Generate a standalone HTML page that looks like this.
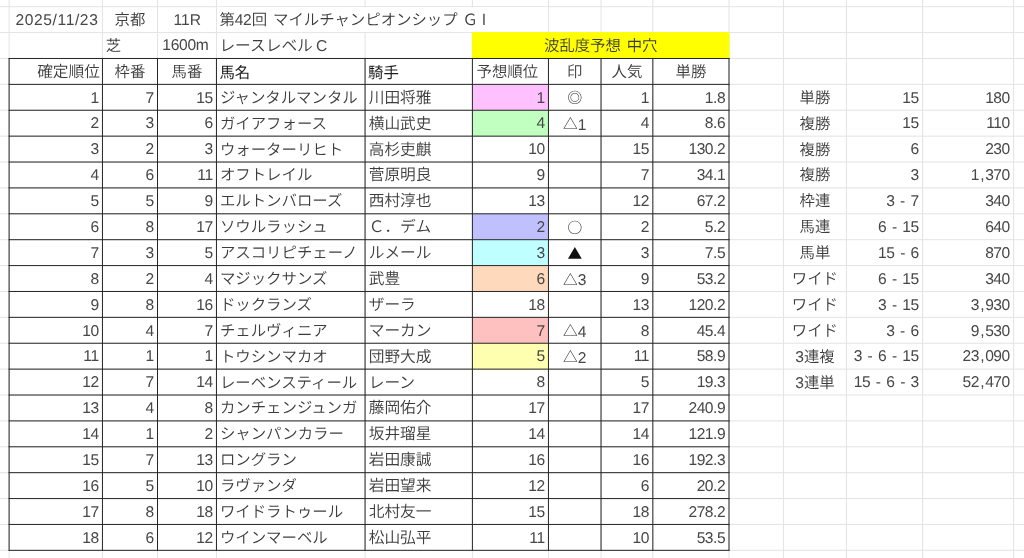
<!DOCTYPE html>
<html lang="ja"><head><meta charset="utf-8"><title>第42回 マイルチャンピオンシップ ＧⅠ</title>
<style>
html,body{margin:0;padding:0;background:#fff}
body{width:1024px;height:558px;position:relative;overflow:hidden;text-rendering:geometricPrecision;
font-family:"Liberation Sans","Noto Sans CJK JP",sans-serif;font-size:15.6px;letter-spacing:-0.45px;word-spacing:1.8px;color:#474747;font-weight:400}
svg{position:absolute;left:0;top:0}
.c{position:absolute;height:25.887px;line-height:25.887px;white-space:nowrap;box-sizing:border-box;overflow:visible}
.r{text-align:right}
.l{text-align:left}
.m{text-align:center}
.j{font-weight:350;font-size:15.4px;letter-spacing:0;word-spacing:1.6px;color:#3c3c3c}
.k{font-weight:400;color:#1c1c1c}
.n{font-size:15.7px}
.x{font-family:"Liberation Sans",sans-serif;font-size:15.6px;letter-spacing:-0.45px;margin-right:0.5px;font-weight:400;color:#474747}
.q{padding:0 1.1px}
.e{letter-spacing:0}
.w0{word-spacing:-1.2px}
.gi{margin-left:-1px;letter-spacing:-1.6px}
.e2{letter-spacing:-0.3px}
.s{font-family:"Noto Sans CJK JP",sans-serif;font-size:14.7px;position:relative;top:-0.3px;font-weight:400;color:#2a2a2a}
.t{color:#111}
.d{letter-spacing:0.6px}

</style></head><body>
<svg width="1024" height="558" viewBox="0 0 1024 558">
<rect x="8.60" y="0.00" width="1.00" height="558.00" fill="#e3e3e3"/>
<rect x="101.95" y="0.00" width="1.00" height="558.00" fill="#e3e3e3"/>
<rect x="157.00" y="0.00" width="1.00" height="558.00" fill="#e3e3e3"/>
<rect x="215.95" y="0.00" width="1.00" height="558.00" fill="#e3e3e3"/>
<rect x="364.56" y="0.00" width="1.00" height="558.00" fill="#e3e3e3"/>
<rect x="471.90" y="0.00" width="1.00" height="558.00" fill="#e3e3e3"/>
<rect x="547.95" y="0.00" width="1.00" height="558.00" fill="#e3e3e3"/>
<rect x="600.53" y="0.00" width="1.00" height="558.00" fill="#e3e3e3"/>
<rect x="652.34" y="0.00" width="1.00" height="558.00" fill="#e3e3e3"/>
<rect x="728.50" y="0.00" width="1.00" height="558.00" fill="#e3e3e3"/>
<rect x="782.96" y="0.00" width="1.00" height="558.00" fill="#e3e3e3"/>
<rect x="845.90" y="0.00" width="1.00" height="558.00" fill="#e3e3e3"/>
<rect x="922.10" y="0.00" width="1.00" height="558.00" fill="#e3e3e3"/>
<rect x="1013.10" y="0.00" width="1.00" height="558.00" fill="#e3e3e3"/>
<rect x="0.00" y="6.21" width="1024.00" height="1.00" fill="#e3e3e3"/>
<rect x="0.00" y="32.09" width="1024.00" height="1.00" fill="#e3e3e3"/>
<rect x="0.00" y="57.98" width="1024.00" height="1.00" fill="#e3e3e3"/>
<rect x="0.00" y="83.87" width="1024.00" height="1.00" fill="#e3e3e3"/>
<rect x="0.00" y="109.75" width="1024.00" height="1.00" fill="#e3e3e3"/>
<rect x="0.00" y="135.64" width="1024.00" height="1.00" fill="#e3e3e3"/>
<rect x="0.00" y="161.53" width="1024.00" height="1.00" fill="#e3e3e3"/>
<rect x="0.00" y="187.41" width="1024.00" height="1.00" fill="#e3e3e3"/>
<rect x="0.00" y="213.30" width="1024.00" height="1.00" fill="#e3e3e3"/>
<rect x="0.00" y="239.19" width="1024.00" height="1.00" fill="#e3e3e3"/>
<rect x="0.00" y="265.08" width="1024.00" height="1.00" fill="#e3e3e3"/>
<rect x="0.00" y="290.96" width="1024.00" height="1.00" fill="#e3e3e3"/>
<rect x="0.00" y="316.85" width="1024.00" height="1.00" fill="#e3e3e3"/>
<rect x="0.00" y="342.74" width="1024.00" height="1.00" fill="#e3e3e3"/>
<rect x="0.00" y="368.62" width="1024.00" height="1.00" fill="#e3e3e3"/>
<rect x="0.00" y="394.51" width="1024.00" height="1.00" fill="#e3e3e3"/>
<rect x="0.00" y="420.40" width="1024.00" height="1.00" fill="#e3e3e3"/>
<rect x="0.00" y="446.29" width="1024.00" height="1.00" fill="#e3e3e3"/>
<rect x="0.00" y="472.17" width="1024.00" height="1.00" fill="#e3e3e3"/>
<rect x="0.00" y="498.06" width="1024.00" height="1.00" fill="#e3e3e3"/>
<rect x="0.00" y="523.95" width="1024.00" height="1.00" fill="#e3e3e3"/>
<rect x="0.00" y="549.83" width="1024.00" height="1.00" fill="#e3e3e3"/>
<rect x="216.95" y="7.21" width="331.00" height="24.89" fill="#fff"/>
<rect x="471.90" y="32.09" width="257.60" height="26.39" fill="#ffff00"/>
<rect x="472.40" y="84.37" width="76.05" height="25.89" fill="#ffc0ff"/>
<rect x="472.40" y="110.25" width="76.05" height="25.89" fill="#c0ffc0"/>
<rect x="472.40" y="213.80" width="76.05" height="25.89" fill="#c0c0ff"/>
<rect x="472.40" y="239.69" width="76.05" height="25.89" fill="#c0ffff"/>
<rect x="472.40" y="265.58" width="76.05" height="25.89" fill="#ffd9bc"/>
<rect x="472.40" y="317.35" width="76.05" height="25.89" fill="#ffc0c0"/>
<rect x="472.40" y="343.24" width="76.05" height="25.89" fill="#ffffb0"/>
<rect x="8.60" y="57.98" width="1.00" height="492.85" fill="#262626"/>
<rect x="101.95" y="57.98" width="1.00" height="492.85" fill="#262626"/>
<rect x="157.00" y="57.98" width="1.00" height="492.85" fill="#262626"/>
<rect x="215.95" y="57.98" width="1.00" height="492.85" fill="#262626"/>
<rect x="364.56" y="57.98" width="1.00" height="492.85" fill="#262626"/>
<rect x="471.90" y="57.98" width="1.00" height="492.85" fill="#262626"/>
<rect x="547.95" y="57.98" width="1.00" height="492.85" fill="#262626"/>
<rect x="600.53" y="57.98" width="1.00" height="492.85" fill="#262626"/>
<rect x="652.34" y="57.98" width="1.00" height="492.85" fill="#262626"/>
<rect x="728.50" y="57.98" width="1.00" height="492.85" fill="#262626"/>
<rect x="8.60" y="57.98" width="720.90" height="1.00" fill="#262626"/>
<rect x="8.60" y="83.87" width="720.90" height="1.00" fill="#262626"/>
<rect x="8.60" y="109.75" width="720.90" height="1.00" fill="#262626"/>
<rect x="8.60" y="135.64" width="720.90" height="1.00" fill="#262626"/>
<rect x="8.60" y="161.53" width="720.90" height="1.00" fill="#262626"/>
<rect x="8.60" y="187.41" width="720.90" height="1.00" fill="#262626"/>
<rect x="8.60" y="213.30" width="720.90" height="1.00" fill="#262626"/>
<rect x="8.60" y="239.19" width="720.90" height="1.00" fill="#262626"/>
<rect x="8.60" y="265.08" width="720.90" height="1.00" fill="#262626"/>
<rect x="8.60" y="290.96" width="720.90" height="1.00" fill="#262626"/>
<rect x="8.60" y="316.85" width="720.90" height="1.00" fill="#262626"/>
<rect x="8.60" y="342.74" width="720.90" height="1.00" fill="#262626"/>
<rect x="8.60" y="368.62" width="720.90" height="1.00" fill="#262626"/>
<rect x="8.60" y="394.51" width="720.90" height="1.00" fill="#262626"/>
<rect x="8.60" y="420.40" width="720.90" height="1.00" fill="#262626"/>
<rect x="8.60" y="446.29" width="720.90" height="1.00" fill="#262626"/>
<rect x="8.60" y="472.17" width="720.90" height="1.00" fill="#262626"/>
<rect x="8.60" y="498.06" width="720.90" height="1.00" fill="#262626"/>
<rect x="8.60" y="523.95" width="720.90" height="1.00" fill="#262626"/>
<rect x="8.60" y="549.83" width="720.90" height="1.00" fill="#262626"/>
</svg>
<div class="c m d" style="left:10.80px;top:7.81px;width:92.35px">2025/11/23</div>
<div class="c m j" style="left:102.95px;top:8.11px;width:54.05px">京都</div>
<div class="c m e" style="left:158.30px;top:7.81px;width:57.95px">11R</div>
<div class="c l j" style="left:216.95px;top:8.11px;width:147.61px;padding-left:2.5px">第<span class="x">42</span>回 マイルチャンピオンシップ <span class="gi">ＧⅠ</span></div>
<div class="c l j" style="left:102.95px;top:33.99px;width:54.05px;padding-left:2.7px">芝</div>
<div class="c m e2" style="left:156.40px;top:33.39px;width:57.95px">1600m</div>
<div class="c l j n w0" style="left:216.95px;top:33.99px;width:147.61px;padding-left:2.5px">レースレベル <span class="x">C</span></div>
<div class="c m j" style="left:472.90px;top:33.99px;width:255.60px">波乱度予想 中穴</div>
<div class="c r j n" style="left:9.60px;top:59.88px;width:92.35px;padding-right:2px">確定順位</div>
<div class="c m j" style="left:102.95px;top:59.88px;width:54.05px">枠番</div>
<div class="c m j" style="left:158.00px;top:59.88px;width:57.95px">馬番</div>
<div class="c l j k" style="left:216.95px;top:61.28px;width:147.61px;padding-left:2.5px">馬名</div>
<div class="c l j k" style="left:365.56px;top:61.28px;width:106.34px;padding-left:2.5px">騎手</div>
<div class="c l j" style="left:472.90px;top:59.88px;width:75.05px;padding-left:3.6px">予想順位</div>
<div class="c m j" style="left:548.95px;top:59.88px;width:51.58px">印</div>
<div class="c m j" style="left:601.53px;top:59.88px;width:50.81px">人気</div>
<div class="c m j" style="left:653.34px;top:59.88px;width:75.16px">単勝</div>
<div class="c r" style="left:9.60px;top:85.57px;width:92.35px;padding-right:3.3px">1</div>
<div class="c r" style="left:102.95px;top:85.57px;width:54.05px;padding-right:3.3px">7</div>
<div class="c r" style="left:158.00px;top:85.57px;width:57.95px;padding-right:3.3px">15</div>
<div class="c l j" style="left:216.95px;top:85.77px;width:147.61px;padding-left:3.0px">ジャンタルマンタル</div>
<div class="c l j n" style="left:365.56px;top:85.77px;width:106.34px;padding-left:3.2px">川田将雅</div>
<div class="c r" style="left:472.90px;top:85.57px;width:75.05px;padding-right:3.3px">1</div>
<div class="c m j" style="left:548.95px;top:85.77px;width:51.58px"><span class="s">◎</span></div>
<div class="c r" style="left:601.53px;top:85.57px;width:50.81px;padding-right:3.3px">1</div>
<div class="c r" style="left:653.34px;top:85.57px;width:75.16px;padding-right:3.3px">1.8</div>
<div class="c r" style="left:9.60px;top:111.45px;width:92.35px;padding-right:3.3px">2</div>
<div class="c r" style="left:102.95px;top:111.45px;width:54.05px;padding-right:3.3px">3</div>
<div class="c r" style="left:158.00px;top:111.45px;width:57.95px;padding-right:3.3px">6</div>
<div class="c l j" style="left:216.95px;top:111.65px;width:147.61px;padding-left:3.0px">ガイアフォース</div>
<div class="c l j n" style="left:365.56px;top:111.65px;width:106.34px;padding-left:3.2px">横山武史</div>
<div class="c r" style="left:472.90px;top:111.45px;width:75.05px;padding-right:3.3px">4</div>
<div class="c m j" style="left:548.95px;top:111.65px;width:51.58px"><span class="s">△</span><span class="x">1</span></div>
<div class="c r" style="left:601.53px;top:111.45px;width:50.81px;padding-right:3.3px">4</div>
<div class="c r" style="left:653.34px;top:111.45px;width:75.16px;padding-right:3.3px">8.6</div>
<div class="c r" style="left:9.60px;top:137.34px;width:92.35px;padding-right:3.3px">3</div>
<div class="c r" style="left:102.95px;top:137.34px;width:54.05px;padding-right:3.3px">2</div>
<div class="c r" style="left:158.00px;top:137.34px;width:57.95px;padding-right:3.3px">3</div>
<div class="c l j" style="left:216.95px;top:137.54px;width:147.61px;padding-left:3.0px">ウォーターリヒト</div>
<div class="c l j n" style="left:365.56px;top:137.54px;width:106.34px;padding-left:3.2px">高杉吏麒</div>
<div class="c r" style="left:472.90px;top:137.34px;width:75.05px;padding-right:3.3px">10</div>
<div class="c r" style="left:601.53px;top:137.34px;width:50.81px;padding-right:3.3px">15</div>
<div class="c r" style="left:653.34px;top:137.34px;width:75.16px;padding-right:3.3px">130.2</div>
<div class="c r" style="left:9.60px;top:163.23px;width:92.35px;padding-right:3.3px">4</div>
<div class="c r" style="left:102.95px;top:163.23px;width:54.05px;padding-right:3.3px">6</div>
<div class="c r" style="left:158.00px;top:163.23px;width:57.95px;padding-right:3.3px">11</div>
<div class="c l j" style="left:216.95px;top:163.43px;width:147.61px;padding-left:3.0px">オフトレイル</div>
<div class="c l j n" style="left:365.56px;top:163.43px;width:106.34px;padding-left:3.2px">菅原明良</div>
<div class="c r" style="left:472.90px;top:163.23px;width:75.05px;padding-right:3.3px">9</div>
<div class="c r" style="left:601.53px;top:163.23px;width:50.81px;padding-right:3.3px">7</div>
<div class="c r" style="left:653.34px;top:163.23px;width:75.16px;padding-right:3.3px">34.1</div>
<div class="c r" style="left:9.60px;top:189.11px;width:92.35px;padding-right:3.3px">5</div>
<div class="c r" style="left:102.95px;top:189.11px;width:54.05px;padding-right:3.3px">5</div>
<div class="c r" style="left:158.00px;top:189.11px;width:57.95px;padding-right:3.3px">9</div>
<div class="c l j" style="left:216.95px;top:189.31px;width:147.61px;padding-left:3.0px">エルトンバローズ</div>
<div class="c l j n" style="left:365.56px;top:189.31px;width:106.34px;padding-left:3.2px">西村淳也</div>
<div class="c r" style="left:472.90px;top:189.11px;width:75.05px;padding-right:3.3px">13</div>
<div class="c r" style="left:601.53px;top:189.11px;width:50.81px;padding-right:3.3px">12</div>
<div class="c r" style="left:653.34px;top:189.11px;width:75.16px;padding-right:3.3px">67.2</div>
<div class="c r" style="left:9.60px;top:215.00px;width:92.35px;padding-right:3.3px">6</div>
<div class="c r" style="left:102.95px;top:215.00px;width:54.05px;padding-right:3.3px">8</div>
<div class="c r" style="left:158.00px;top:215.00px;width:57.95px;padding-right:3.3px">17</div>
<div class="c l j" style="left:216.95px;top:215.20px;width:147.61px;padding-left:3.0px">ソウルラッシュ</div>
<div class="c l j n" style="left:365.56px;top:215.20px;width:106.34px;padding-left:3.2px">Ｃ．デム</div>
<div class="c r" style="left:472.90px;top:215.00px;width:75.05px;padding-right:3.3px">2</div>
<div class="c m j" style="left:548.95px;top:215.20px;width:51.58px"><span class="s">○</span></div>
<div class="c r" style="left:601.53px;top:215.00px;width:50.81px;padding-right:3.3px">2</div>
<div class="c r" style="left:653.34px;top:215.00px;width:75.16px;padding-right:3.3px">5.2</div>
<div class="c r" style="left:9.60px;top:240.89px;width:92.35px;padding-right:3.3px">7</div>
<div class="c r" style="left:102.95px;top:240.89px;width:54.05px;padding-right:3.3px">3</div>
<div class="c r" style="left:158.00px;top:240.89px;width:57.95px;padding-right:3.3px">5</div>
<div class="c l j" style="left:216.95px;top:241.09px;width:147.61px;padding-left:3.0px">アスコリピチェーノ</div>
<div class="c l j n" style="left:365.56px;top:241.09px;width:106.34px;padding-left:3.2px">ルメール</div>
<div class="c r" style="left:472.90px;top:240.89px;width:75.05px;padding-right:3.3px">3</div>
<div class="c m j" style="left:548.95px;top:241.09px;width:51.58px"><span class="s t">▲</span></div>
<div class="c r" style="left:601.53px;top:240.89px;width:50.81px;padding-right:3.3px">3</div>
<div class="c r" style="left:653.34px;top:240.89px;width:75.16px;padding-right:3.3px">7.5</div>
<div class="c r" style="left:9.60px;top:266.78px;width:92.35px;padding-right:3.3px">8</div>
<div class="c r" style="left:102.95px;top:266.78px;width:54.05px;padding-right:3.3px">2</div>
<div class="c r" style="left:158.00px;top:266.78px;width:57.95px;padding-right:3.3px">4</div>
<div class="c l j" style="left:216.95px;top:266.98px;width:147.61px;padding-left:3.0px">マジックサンズ</div>
<div class="c l j n" style="left:365.56px;top:266.98px;width:106.34px;padding-left:3.2px">武豊</div>
<div class="c r" style="left:472.90px;top:266.78px;width:75.05px;padding-right:3.3px">6</div>
<div class="c m j" style="left:548.95px;top:266.98px;width:51.58px"><span class="s">△</span><span class="x">3</span></div>
<div class="c r" style="left:601.53px;top:266.78px;width:50.81px;padding-right:3.3px">9</div>
<div class="c r" style="left:653.34px;top:266.78px;width:75.16px;padding-right:3.3px">53.2</div>
<div class="c r" style="left:9.60px;top:292.66px;width:92.35px;padding-right:3.3px">9</div>
<div class="c r" style="left:102.95px;top:292.66px;width:54.05px;padding-right:3.3px">8</div>
<div class="c r" style="left:158.00px;top:292.66px;width:57.95px;padding-right:3.3px">16</div>
<div class="c l j" style="left:216.95px;top:292.86px;width:147.61px;padding-left:3.0px">ドックランズ</div>
<div class="c l j n" style="left:365.56px;top:292.86px;width:106.34px;padding-left:3.2px">ザーラ</div>
<div class="c r" style="left:472.90px;top:292.66px;width:75.05px;padding-right:3.3px">18</div>
<div class="c r" style="left:601.53px;top:292.66px;width:50.81px;padding-right:3.3px">13</div>
<div class="c r" style="left:653.34px;top:292.66px;width:75.16px;padding-right:3.3px">120.2</div>
<div class="c r" style="left:9.60px;top:318.55px;width:92.35px;padding-right:3.3px">10</div>
<div class="c r" style="left:102.95px;top:318.55px;width:54.05px;padding-right:3.3px">4</div>
<div class="c r" style="left:158.00px;top:318.55px;width:57.95px;padding-right:3.3px">7</div>
<div class="c l j" style="left:216.95px;top:318.75px;width:147.61px;padding-left:3.0px">チェルヴィニア</div>
<div class="c l j n" style="left:365.56px;top:318.75px;width:106.34px;padding-left:3.2px">マーカン</div>
<div class="c r" style="left:472.90px;top:318.55px;width:75.05px;padding-right:3.3px">7</div>
<div class="c m j" style="left:548.95px;top:318.75px;width:51.58px"><span class="s">△</span><span class="x">4</span></div>
<div class="c r" style="left:601.53px;top:318.55px;width:50.81px;padding-right:3.3px">8</div>
<div class="c r" style="left:653.34px;top:318.55px;width:75.16px;padding-right:3.3px">45.4</div>
<div class="c r" style="left:9.60px;top:344.44px;width:92.35px;padding-right:3.3px">11</div>
<div class="c r" style="left:102.95px;top:344.44px;width:54.05px;padding-right:3.3px">1</div>
<div class="c r" style="left:158.00px;top:344.44px;width:57.95px;padding-right:3.3px">1</div>
<div class="c l j" style="left:216.95px;top:344.64px;width:147.61px;padding-left:3.0px">トウシンマカオ</div>
<div class="c l j n" style="left:365.56px;top:344.64px;width:106.34px;padding-left:3.2px">団野大成</div>
<div class="c r" style="left:472.90px;top:344.44px;width:75.05px;padding-right:3.3px">5</div>
<div class="c m j" style="left:548.95px;top:344.64px;width:51.58px"><span class="s">△</span><span class="x">2</span></div>
<div class="c r" style="left:601.53px;top:344.44px;width:50.81px;padding-right:3.3px">11</div>
<div class="c r" style="left:653.34px;top:344.44px;width:75.16px;padding-right:3.3px">58.9</div>
<div class="c r" style="left:9.60px;top:370.32px;width:92.35px;padding-right:3.3px">12</div>
<div class="c r" style="left:102.95px;top:370.32px;width:54.05px;padding-right:3.3px">7</div>
<div class="c r" style="left:158.00px;top:370.32px;width:57.95px;padding-right:3.3px">14</div>
<div class="c l j" style="left:216.95px;top:370.52px;width:147.61px;padding-left:3.0px">レーベンスティール</div>
<div class="c l j n" style="left:365.56px;top:370.52px;width:106.34px;padding-left:3.2px">レーン</div>
<div class="c r" style="left:472.90px;top:370.32px;width:75.05px;padding-right:3.3px">8</div>
<div class="c r" style="left:601.53px;top:370.32px;width:50.81px;padding-right:3.3px">5</div>
<div class="c r" style="left:653.34px;top:370.32px;width:75.16px;padding-right:3.3px">19.3</div>
<div class="c r" style="left:9.60px;top:396.21px;width:92.35px;padding-right:3.3px">13</div>
<div class="c r" style="left:102.95px;top:396.21px;width:54.05px;padding-right:3.3px">4</div>
<div class="c r" style="left:158.00px;top:396.21px;width:57.95px;padding-right:3.3px">8</div>
<div class="c l j" style="left:216.95px;top:396.41px;width:147.61px;padding-left:3.0px">カンチェンジュンガ</div>
<div class="c l j n" style="left:365.56px;top:396.41px;width:106.34px;padding-left:3.2px">藤岡佑介</div>
<div class="c r" style="left:472.90px;top:396.21px;width:75.05px;padding-right:3.3px">17</div>
<div class="c r" style="left:601.53px;top:396.21px;width:50.81px;padding-right:3.3px">17</div>
<div class="c r" style="left:653.34px;top:396.21px;width:75.16px;padding-right:3.3px">240.9</div>
<div class="c r" style="left:9.60px;top:422.10px;width:92.35px;padding-right:3.3px">14</div>
<div class="c r" style="left:102.95px;top:422.10px;width:54.05px;padding-right:3.3px">1</div>
<div class="c r" style="left:158.00px;top:422.10px;width:57.95px;padding-right:3.3px">2</div>
<div class="c l j" style="left:216.95px;top:422.30px;width:147.61px;padding-left:3.0px">シャンパンカラー</div>
<div class="c l j n" style="left:365.56px;top:422.30px;width:106.34px;padding-left:3.2px">坂井瑠星</div>
<div class="c r" style="left:472.90px;top:422.10px;width:75.05px;padding-right:3.3px">14</div>
<div class="c r" style="left:601.53px;top:422.10px;width:50.81px;padding-right:3.3px">14</div>
<div class="c r" style="left:653.34px;top:422.10px;width:75.16px;padding-right:3.3px">121.9</div>
<div class="c r" style="left:9.60px;top:447.99px;width:92.35px;padding-right:3.3px">15</div>
<div class="c r" style="left:102.95px;top:447.99px;width:54.05px;padding-right:3.3px">7</div>
<div class="c r" style="left:158.00px;top:447.99px;width:57.95px;padding-right:3.3px">13</div>
<div class="c l j" style="left:216.95px;top:448.19px;width:147.61px;padding-left:3.0px">ロングラン</div>
<div class="c l j n" style="left:365.56px;top:448.19px;width:106.34px;padding-left:3.2px">岩田康誠</div>
<div class="c r" style="left:472.90px;top:447.99px;width:75.05px;padding-right:3.3px">16</div>
<div class="c r" style="left:601.53px;top:447.99px;width:50.81px;padding-right:3.3px">16</div>
<div class="c r" style="left:653.34px;top:447.99px;width:75.16px;padding-right:3.3px">192.3</div>
<div class="c r" style="left:9.60px;top:473.87px;width:92.35px;padding-right:3.3px">16</div>
<div class="c r" style="left:102.95px;top:473.87px;width:54.05px;padding-right:3.3px">5</div>
<div class="c r" style="left:158.00px;top:473.87px;width:57.95px;padding-right:3.3px">10</div>
<div class="c l j" style="left:216.95px;top:474.07px;width:147.61px;padding-left:3.0px">ラヴァンダ</div>
<div class="c l j n" style="left:365.56px;top:474.07px;width:106.34px;padding-left:3.2px">岩田望来</div>
<div class="c r" style="left:472.90px;top:473.87px;width:75.05px;padding-right:3.3px">12</div>
<div class="c r" style="left:601.53px;top:473.87px;width:50.81px;padding-right:3.3px">6</div>
<div class="c r" style="left:653.34px;top:473.87px;width:75.16px;padding-right:3.3px">20.2</div>
<div class="c r" style="left:9.60px;top:499.76px;width:92.35px;padding-right:3.3px">17</div>
<div class="c r" style="left:102.95px;top:499.76px;width:54.05px;padding-right:3.3px">8</div>
<div class="c r" style="left:158.00px;top:499.76px;width:57.95px;padding-right:3.3px">18</div>
<div class="c l j" style="left:216.95px;top:499.96px;width:147.61px;padding-left:3.0px">ワイドラトゥール</div>
<div class="c l j n" style="left:365.56px;top:499.96px;width:106.34px;padding-left:3.2px">北村友一</div>
<div class="c r" style="left:472.90px;top:499.76px;width:75.05px;padding-right:3.3px">15</div>
<div class="c r" style="left:601.53px;top:499.76px;width:50.81px;padding-right:3.3px">18</div>
<div class="c r" style="left:653.34px;top:499.76px;width:75.16px;padding-right:3.3px">278.2</div>
<div class="c r" style="left:9.60px;top:525.65px;width:92.35px;padding-right:3.3px">18</div>
<div class="c r" style="left:102.95px;top:525.65px;width:54.05px;padding-right:3.3px">6</div>
<div class="c r" style="left:158.00px;top:525.65px;width:57.95px;padding-right:3.3px">12</div>
<div class="c l j" style="left:216.95px;top:525.85px;width:147.61px;padding-left:3.0px">ウインマーベル</div>
<div class="c l j n" style="left:365.56px;top:525.85px;width:106.34px;padding-left:3.2px">松山弘平</div>
<div class="c r" style="left:472.90px;top:525.65px;width:75.05px;padding-right:3.3px">11</div>
<div class="c r" style="left:601.53px;top:525.65px;width:50.81px;padding-right:3.3px">10</div>
<div class="c r" style="left:653.34px;top:525.65px;width:75.16px;padding-right:3.3px">53.5</div>
<div class="c m j" style="left:783.96px;top:85.77px;width:61.94px">単勝</div>
<div class="c r" style="left:846.90px;top:85.57px;width:75.20px;padding-right:3.3px">15</div>
<div class="c r" style="left:923.10px;top:85.57px;width:90.00px;padding-right:3.3px">180</div>
<div class="c m j" style="left:783.96px;top:111.65px;width:61.94px">複勝</div>
<div class="c r" style="left:846.90px;top:111.45px;width:75.20px;padding-right:3.3px">15</div>
<div class="c r" style="left:923.10px;top:111.45px;width:90.00px;padding-right:3.3px">110</div>
<div class="c m j" style="left:783.96px;top:137.54px;width:61.94px">複勝</div>
<div class="c r" style="left:846.90px;top:137.34px;width:75.20px;padding-right:3.3px">6</div>
<div class="c r" style="left:923.10px;top:137.34px;width:90.00px;padding-right:3.3px">230</div>
<div class="c m j" style="left:783.96px;top:163.43px;width:61.94px">複勝</div>
<div class="c r" style="left:846.90px;top:163.23px;width:75.20px;padding-right:3.3px">3</div>
<div class="c r" style="left:923.10px;top:163.23px;width:90.00px;padding-right:3.3px">1<span class="q">,</span>370</div>
<div class="c m j" style="left:783.96px;top:189.31px;width:61.94px">枠連</div>
<div class="c r" style="left:846.90px;top:189.11px;width:75.20px;padding-right:3.3px">3 - 7</div>
<div class="c r" style="left:923.10px;top:189.11px;width:90.00px;padding-right:3.3px">340</div>
<div class="c m j" style="left:783.96px;top:215.20px;width:61.94px">馬連</div>
<div class="c r" style="left:846.90px;top:215.00px;width:75.20px;padding-right:3.3px">6 - 15</div>
<div class="c r" style="left:923.10px;top:215.00px;width:90.00px;padding-right:3.3px">640</div>
<div class="c m j" style="left:783.96px;top:241.09px;width:61.94px">馬単</div>
<div class="c r" style="left:846.90px;top:240.89px;width:75.20px;padding-right:3.3px">15 - 6</div>
<div class="c r" style="left:923.10px;top:240.89px;width:90.00px;padding-right:3.3px">870</div>
<div class="c m j" style="left:783.96px;top:266.98px;width:61.94px">ワイド</div>
<div class="c r" style="left:846.90px;top:266.78px;width:75.20px;padding-right:3.3px">6 - 15</div>
<div class="c r" style="left:923.10px;top:266.78px;width:90.00px;padding-right:3.3px">340</div>
<div class="c m j" style="left:783.96px;top:292.86px;width:61.94px">ワイド</div>
<div class="c r" style="left:846.90px;top:292.66px;width:75.20px;padding-right:3.3px">3 - 15</div>
<div class="c r" style="left:923.10px;top:292.66px;width:90.00px;padding-right:3.3px">3<span class="q">,</span>930</div>
<div class="c m j" style="left:783.96px;top:318.75px;width:61.94px">ワイド</div>
<div class="c r" style="left:846.90px;top:318.55px;width:75.20px;padding-right:3.3px">3 - 6</div>
<div class="c r" style="left:923.10px;top:318.55px;width:90.00px;padding-right:3.3px">9<span class="q">,</span>530</div>
<div class="c m j" style="left:783.96px;top:344.64px;width:61.94px"><span class="x">3</span>連複</div>
<div class="c r" style="left:846.90px;top:344.44px;width:75.20px;padding-right:3.3px">3 - 6 - 15</div>
<div class="c r" style="left:923.10px;top:344.44px;width:90.00px;padding-right:3.3px">23<span class="q">,</span>090</div>
<div class="c m j" style="left:783.96px;top:370.52px;width:61.94px"><span class="x">3</span>連単</div>
<div class="c r" style="left:846.90px;top:370.32px;width:75.20px;padding-right:3.3px">15 - 6 - 3</div>
<div class="c r" style="left:923.10px;top:370.32px;width:90.00px;padding-right:3.3px">52<span class="q">,</span>470</div>
</body></html>
